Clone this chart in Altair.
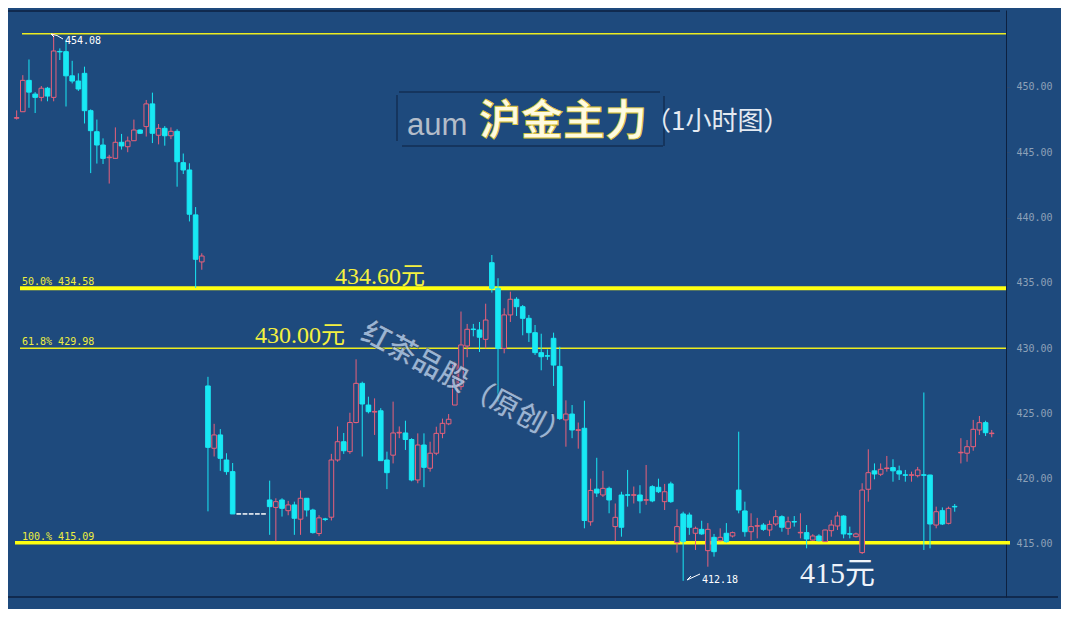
import altair as alt
import pandas as pd

# ---- candle data (1 hour bars) ----
kinds = (["up", "up", "down", "down", "up", "down", "up", "down", "down", "down",
          "down", "down", "down", "down", "down", "up", "up", "down", "up", "up",
          "down", "up", "down", "up", "down", "up", "down", "down", "down", "down",
          "up", "down", "up", "down", "down", "down"]
         + ["flat"] * 5
         + ["down", "up", "down", "up", "down", "up", "down", "down", "up", "down",
            "up", "up", "down", "up", "up", "down", "down", "up", "down", "down",
            "up", "up", "down", "down", "up", "down", "up", "up", "up", "up",
            "up", "up", "up", "down", "down", "up", "down", "down", "up", "up",
            "down", "down", "down", "down", "down", "down", "down", "down", "up", "down",
            "up", "down", "up", "down", "up", "down", "up", "down", "down", "up",
            "down", "up", "down", "down", "up", "down", "up", "down", "down", "up",
            "down", "up", "down", "up", "down", "up", "down", "down", "up", "up",
            "down", "up", "up", "down", "up", "down", "up", "down", "up", "down",
            "up", "up", "up", "down", "down", "up", "up", "up", "down", "up",
            "up", "down", "down", "down", "up", "up", "down", "down", "up", "down",
            "up", "down", "up", "up", "up", "up", "down", "up"])

opens = [447.6, 448.1, 450.5, 449.45, 449.2, 449.9, 449.2, 452.72, 452.7, 450.85,
         450.45, 451.04, 448.18, 446.57, 445.55, 444.58, 444.53, 445.76, 445.42, 445.88,
         446.7, 446.96, 448.7, 446.3, 446.83, 446.26, 446.6, 444.2, 443.64, 440.2,
         436.6, 427.1, 422.33, 423.35, 421.43, 420.54,
         417.3, 417.3, 417.3, 417.3, 417.3,
         418.37, 417.8, 418.37, 417.55, 417.99, 416.9, 418.5, 417.6, 415.8, 416.92,
         417.05, 421.43, 422.83, 422.07, 424.3, 427.3, 425.64, 425.1, 425.2, 421.43,
         421.8, 423.5, 423.5, 423.0, 419.9, 422.58, 420.8, 421.95, 423.47, 424.2,
         425.64, 427.05, 430.16, 431.46, 431.39, 430.67, 436.54, 434.58, 429.98, 432.54,
         433.74, 433.17, 432.28, 431.18, 429.65, 429.42, 430.75, 428.6, 424.5, 424.95,
         423.7, 423.86, 416.7, 419.2, 418.75, 419.26, 417.04, 416.28, 418.77, 418.73,
         418.75, 418.39, 418.3, 419.34, 419.0, 418.24, 416.33, 415.18, 417.22, 416.2,
         415.77, 416.12, 414.41, 415.51, 415.18, 415.87, 419.13, 417.53, 415.94, 416.36,
         416.45, 416.07, 416.53, 417.09, 416.2, 416.72, 415.85, 415.87, 415.3, 415.61,
         415.18, 416.02, 416.38, 417.14, 415.79, 415.56, 414.34, 419.19, 420.6, 420.34,
         420.78, 420.85, 420.6, 420.3, 420.26, 420.23, 420.3, 420.28, 416.45, 417.55,
         416.58, 417.88, 421.98, 421.95, 422.45, 423.73, 424.29, 423.45]

highs = [448.2, 450.9, 452.1, 449.6, 450.07, 450.0, 454.08, 452.95, 453.6, 452.0,
         451.04, 451.55, 448.28, 447.5, 446.06, 444.8, 446.9, 446.4, 446.2, 447.5,
         446.75, 449.0, 449.56, 447.16, 447.0, 446.9, 446.76, 444.9, 444.15, 440.8,
         437.26, 427.8, 424.2, 423.8, 421.95, 421.2,
         417.3, 417.3, 417.3, 417.3, 417.3,
         419.85, 418.5, 418.5, 418.3, 418.24, 419.1, 418.5, 417.7, 417.2, 417.0,
         421.9, 424.0, 423.5, 425.05, 429.14, 427.43, 426.28, 426.15, 425.4, 422.07,
         425.9, 424.0, 424.44, 423.1, 423.47, 423.47, 422.83, 423.98, 424.6, 424.95,
         428.96, 432.8, 431.85, 431.85, 432.0, 433.4, 437.13, 435.35, 433.05, 434.32,
         433.9, 433.3, 432.54, 431.77, 431.1, 429.9, 431.18, 430.1, 426.0, 425.64,
         424.3, 425.97, 420.0, 421.6, 420.6, 419.39, 418.1, 419.0, 420.67, 419.4,
         419.5, 421.05, 419.5, 420.0, 419.6, 419.77, 417.66, 417.47, 417.4, 416.33,
         416.78, 416.6, 415.77, 416.2, 416.6, 415.95, 423.6, 418.24, 417.35, 417.0,
         416.6, 416.8, 417.6, 417.2, 417.09, 417.14, 417.35, 416.45, 415.75, 415.75,
         416.1, 416.84, 417.47, 417.2, 416.33, 415.87, 419.65, 422.25, 421.17, 421.17,
         421.74, 421.49, 421.0, 420.67, 420.54, 420.9, 426.6, 420.3, 417.86, 417.8,
         417.86, 418.06, 423.1, 422.96, 424.5, 424.8, 424.44, 423.73]

lows = [447.5, 448.1, 448.4, 448.0, 448.9, 448.9, 448.9, 452.06, 448.5, 450.27,
        449.69, 447.2, 443.4, 444.13, 444.1, 442.6, 444.53, 445.2, 445.0, 445.88,
        446.4, 446.2, 445.7, 445.6, 445.5, 446.0, 442.36, 443.33, 439.7, 434.6,
        436.0, 417.5, 421.7, 420.6, 420.3, 417.3,
        417.3, 417.3, 417.3, 417.3, 417.3,
        415.7, 415.2, 417.1, 417.2, 415.7, 415.7, 417.1, 415.8, 415.6, 416.75,
        416.8, 421.3, 421.9, 421.9, 424.24, 421.7, 425.0, 423.35, 421.38, 419.2,
        421.17, 423.1, 422.2, 419.8, 419.65, 419.35, 420.54, 421.8, 423.1, 424.1,
        425.64, 426.8, 429.3, 430.9, 429.7, 429.98, 434.25, 425.9, 429.6, 432.0,
        432.46, 430.98, 430.47, 429.47, 428.3, 429.1, 427.1, 424.5, 422.45, 423.1,
        422.3, 416.2, 416.4, 418.6, 418.6, 417.35, 415.2, 415.56, 417.86, 418.1,
        417.35, 418.0, 418.2, 418.9, 417.6, 418.15, 414.34, 412.18, 415.7, 414.54,
        415.7, 413.26, 414.03, 415.2, 415.1, 415.5, 417.35, 415.56, 415.3, 415.43,
        416.0, 415.6, 416.38, 415.94, 415.7, 416.33, 415.43, 414.67, 415.25, 415.2,
        415.18, 415.56, 416.07, 415.43, 415.43, 415.5, 414.23, 418.24, 419.95, 420.2,
        420.54, 419.77, 419.9, 419.77, 419.77, 420.1, 414.54, 414.67, 416.2, 416.45,
        416.5, 417.47, 421.17, 421.3, 422.14, 423.35, 423.27, 423.17]

closes = [447.65, 450.5, 449.6, 449.2, 449.9, 449.3, 452.75, 452.68, 450.85, 450.45,
          449.84, 448.18, 446.65, 445.55, 444.53, 444.62, 445.76, 445.48, 445.86, 446.7,
          446.45, 448.7, 446.45, 446.83, 446.26, 446.6, 444.27, 443.64, 440.25, 436.8,
          437.05, 422.4, 423.35, 421.56, 420.54, 417.3,
          417.3, 417.3, 417.3, 417.3, 417.3,
          417.86, 418.24, 417.73, 417.99, 416.97, 418.5, 417.6, 415.87, 417.0, 416.88,
          421.43, 422.83, 422.14, 424.3, 427.3, 425.72, 425.13, 425.15, 421.38, 420.46,
          423.5, 423.55, 423.0, 419.9, 422.58, 420.87, 421.95, 423.47, 424.24, 424.55,
          428.7, 430.24, 431.44, 431.42, 430.83, 432.15, 434.58, 429.98, 432.54, 433.74,
          433.17, 432.28, 431.18, 429.65, 429.34, 429.38, 428.7, 424.6, 424.95, 423.73,
          423.75, 416.8, 419.1, 418.9, 419.26, 418.37, 416.33, 418.75, 418.73, 418.77,
          418.3, 418.35, 419.39, 419.0, 418.24, 419.6, 415.1, 417.3, 416.28, 415.82,
          416.12, 414.49, 415.51, 415.25, 415.82, 415.61, 417.6, 415.94, 416.33, 416.4,
          416.12, 416.5, 417.09, 416.28, 416.7, 416.68, 415.89, 415.38, 415.61, 415.25,
          416.07, 416.45, 417.14, 415.77, 415.75, 415.77, 419.13, 420.46, 420.36, 420.72,
          420.82, 420.6, 420.36, 420.26, 420.3, 420.67, 420.26, 416.53, 417.47, 416.53,
          417.73, 417.84, 422.02, 422.45, 423.78, 424.29, 423.52, 423.49]

# ---- levels and labels ----
fib_levels = [454.08, 434.58, 429.98, 415.09]
fib_pcts = ["", "50.0%", "61.8%", "100.%"]
low_mark = 412.18
big_values = [434.60, 430.00, 415.0]
big_texts = ["434.60元", "430.00元", "415元"]
axis_ticks = [415, 420, 425, 430, 435, 440, 445, 450]
title_code = "aum"
title_name = "沪金主力"
title_period = "（1小时图）"
watermark = "红茶品股（原创）"

BG = "#1e4a7d"
RED = "#e8607a"
CYAN = "#18e8f4"
WHITE = "#ffffff"
YEL = "#ffff10"
LBLY = "#eeee40"
DARK = "#0d2140"

n = len(opens)
df = pd.DataFrame({"i": list(range(n)), "open": opens, "high": highs,
                   "low": lows, "close": closes, "kind": kinds})

xs = alt.Scale(domain=[-0.59, 159.5], nice=False, zero=False)
ys = alt.Scale(domain=[410.94, 455.89], nice=False, zero=False)
yax = alt.Axis(orient="right", values=axis_ticks, format=".2f", grid=False, title=None,
               labelColor="#8ea1b8", labelFont="DejaVu Sans Mono", labelFontSize=10,
               tickColor="#2c4a72", tickSize=4, labelPadding=6,
               domainColor=DARK, domainWidth=1)
kdom = ["up", "down", "flat"]

wicks = alt.Chart(df).mark_rule(strokeWidth=1).encode(
    x=alt.X("i:Q", scale=xs, axis=None),
    y=alt.Y("low:Q", scale=ys, axis=yax),
    y2="high:Q",
    color=alt.Color("kind:N", scale=alt.Scale(domain=kdom, range=[RED, CYAN, WHITE]), legend=None),
)
bodies = alt.Chart(df).mark_bar(size=4.6, strokeWidth=1).encode(
    x=alt.X("i:Q", scale=xs, axis=None),
    y=alt.Y("open:Q", scale=ys, axis=yax),
    y2="close:Q",
    fill=alt.Fill("kind:N", scale=alt.Scale(domain=kdom, range=[BG, CYAN, WHITE]), legend=None),
    stroke=alt.Stroke("kind:N", scale=alt.Scale(domain=kdom, range=[RED, CYAN, WHITE]), legend=None),
)


def hline(v, x1, x2, w, color):
    return alt.Chart(pd.DataFrame({"v": [v]})).mark_rule(color=color, strokeWidth=w).encode(
        y=alt.Y("v:Q", scale=ys, axis=yax), x=alt.value(x1), x2=alt.value(x2))


def seg(x1, y1, x2, y2, color, w=1):
    return alt.Chart(pd.DataFrame({"a": [0]})).mark_rule(color=color, strokeWidth=w).encode(
        x=alt.value(x1), y=alt.value(y1), x2=alt.value(x2), y2=alt.value(y2))


def txt(t, x, y, **kw):
    return alt.Chart(pd.DataFrame({"t": [t]})).mark_text(**kw).encode(
        x=alt.value(x), y=alt.value(y), text="t:N")


lines = [
    hline(fib_levels[0], 14, 998, 1.5, "#ecec20"),
    hline(fib_levels[1], 12, 998, 4, YEL),
    hline(fib_levels[2], 12, 998, 1.5, "#ecec20"),
    hline(fib_levels[3], 7, 1002, 3.5, YEL),
]

fib_df = pd.DataFrame({"v": fib_levels[1:],
                       "label": [f"{p} {v:.2f}" for p, v in zip(fib_pcts[1:], fib_levels[1:])]})
fib_labels = alt.Chart(fib_df).mark_text(align="left", baseline="alphabetic", dy=-3,
                                         font="DejaVu Sans Mono", fontSize=10, color=LBLY).encode(
    y=alt.Y("v:Q", scale=ys, axis=yax), x=alt.value(14), text="label:N")

hi_label = alt.Chart(pd.DataFrame({"v": [fib_levels[0]], "label": [f"{fib_levels[0]:.2f}"]})).mark_text(
    align="left", baseline="alphabetic", dy=10, font="DejaVu Sans Mono", fontSize=10, color=WHITE).encode(
    y=alt.Y("v:Q", scale=ys, axis=yax), x=alt.value(57), text="label:N")
lo_label = alt.Chart(pd.DataFrame({"v": [low_mark], "label": [f"{low_mark:.2f}"]})).mark_text(
    align="left", baseline="alphabetic", dy=2, font="DejaVu Sans Mono", fontSize=10, color=WHITE).encode(
    y=alt.Y("v:Q", scale=ys, axis=yax), x=alt.value(694), text="label:N")

arrows = [
    seg(43, 24, 49, 25.5, WHITE), seg(49, 25.5, 55, 29, WHITE),
    seg(43, 24, 46, 27, WHITE),
    seg(679, 570, 692, 564, WHITE), seg(679, 570, 683, 566, WHITE),
]

big_df = pd.DataFrame({"v": big_values, "t": big_texts})
big1 = alt.Chart(big_df.iloc[[0]]).mark_text(align="left", baseline="alphabetic", dy=-4,
    font="Liberation Serif, Noto Sans CJK SC", fontSize=24, color="#f4f040").encode(
    y=alt.Y("v:Q", scale=ys, axis=yax), x=alt.value(327), text="t:N")
big2 = alt.Chart(big_df.iloc[[1]]).mark_text(align="left", baseline="alphabetic", dy=-5,
    font="Liberation Serif, Noto Sans CJK SC", fontSize=24, color="#f4f040").encode(
    y=alt.Y("v:Q", scale=ys, axis=yax), x=alt.value(247), text="t:N")
big3 = alt.Chart(big_df.iloc[[2]]).mark_text(align="left", baseline="alphabetic", dy=39,
    font="Liberation Serif, Noto Sans CJK SC", fontSize=30, color="#eef3fa").encode(
    y=alt.Y("v:Q", scale=ys, axis=yax), x=alt.value(792), text="t:N")

frame = [
    seg(391, 82, 652, 82, DARK), seg(394, 136, 655, 136, DARK),
    seg(389, 85, 389, 131, DARK), seg(656, 86, 656, 136, DARK),
]

title = [
    txt(title_code, 399, 125, align="left", baseline="alphabetic",
        font="Liberation Sans", fontSize=31, color="#b4bdc9"),
    txt(title_name, 555, 112, align="center", baseline="middle",
        font="Noto Sans CJK SC", fontSize=42, fontWeight="bold", color="#fffbe0",
        stroke="#d8c030", strokeWidth=0.8),
    txt(title_period, 637, 112, align="left", baseline="middle",
        font="Noto Sans CJK SC", fontSize=26, color="#e4eaf2"),
]

wm = [
    txt(watermark, 458, 375, align="center", baseline="middle", angle=28,
        font="Noto Sans CJK SC", fontSize=29, fontWeight="bold", color="#c4d8f0", opacity=0.75,
        stroke="#16325a", strokeWidth=0.6),
]

borders = [
    seg(0, 1, 992, 1, DARK, 1.5),
    seg(0, 587, 1050, 587, DARK, 1.5),
]

chart = alt.layer(
    *lines, wicks, bodies, fib_labels, hi_label, lo_label, *arrows,
    big1, big2, big3, *frame, *wm, *title, *borders
).properties(
    width=998, height=587, autosize="none",
    padding={"left": 0, "top": 2, "right": 55, "bottom": 12},
).configure(background=BG).configure_view(strokeWidth=0)

chart.save("out.html", embed_options={"renderer": "svg", "actions": False})
